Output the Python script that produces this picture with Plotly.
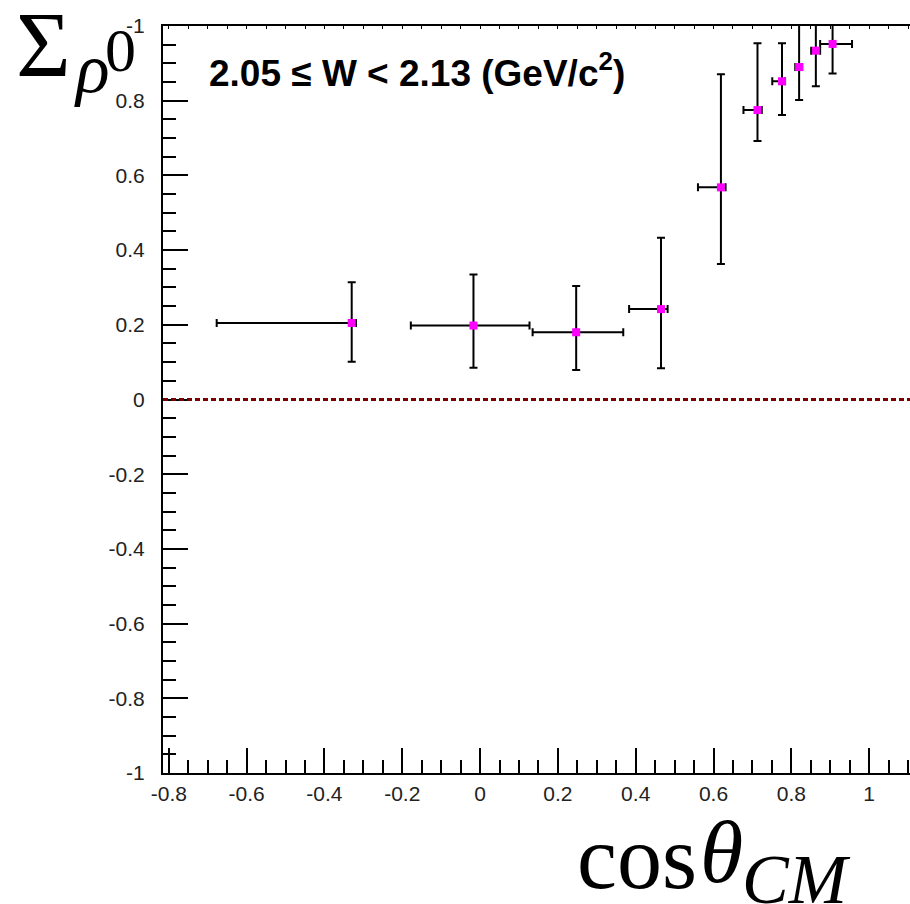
import plotly.graph_objects as go

# ---- data ----
cos_theta = [-0.330, -0.017, 0.247, 0.465, 0.619, 0.713, 0.776, 0.820, 0.863, 0.906]
sigma = [0.205, 0.198, 0.180, 0.242, 0.568, 0.775, 0.852, 0.890, 0.934, 0.952]
x_err_minus = [0.347, 0.161, 0.112, 0.082, 0.059, 0.036, 0.025, 0.010, 0.012, 0.032]
x_err_plus = [0.011, 0.144, 0.121, 0.017, 0.012, 0.011, 0.008, 0.008, 0.011, 0.050]
y_err_plus = [0.109, 0.137, 0.124, 0.191, 0.303, 0.179, 0.102, 0.150, 0.120, 0.100]
y_err_minus = [0.104, 0.113, 0.101, 0.158, 0.205, 0.083, 0.090, 0.088, 0.095, 0.079]

y_tick_vals = [-1, -0.8, -0.6, -0.4, -0.2, 0, 0.2, 0.4, 0.6, 0.8, 1]
y_tick_text = ["-1", "-0.8", "-0.6", "-0.4", "-0.2", "0", "0.2", "0.4", "0.6", "0.8", "-1"]
x_tick_vals = [-0.8, -0.6, -0.4, -0.2, 0, 0.2, 0.4, 0.6, 0.8, 1]
x_tick_text = ["-0.8", "-0.6", "-0.4", "-0.2", "0", "0.2", "0.4", "0.6", "0.8", "1"]

X_RANGE = [-0.815, 1.105]
Y_RANGE = [-1, 1]

W, H = 910, 904
L, R, T, B = 163, 0, 26, 131
PW, PH = W - L - R, H - T - B


def px2paper_x(px):
    return (px - L) / PW


def px2paper_y(py):
    return (H - B - py) / PH


fig = go.Figure()

fig.add_trace(go.Scatter(
    x=cos_theta, y=sigma, mode="markers",
    marker=dict(symbol="square", size=8, color="#ff00ff"),
    error_x=dict(type="data", symmetric=False, array=x_err_plus, arrayminus=x_err_minus,
                 color="black", thickness=2, width=4),
    error_y=dict(type="data", symmetric=False, array=y_err_plus, arrayminus=y_err_minus,
                 color="black", thickness=2, width=4),
    showlegend=False, hoverinfo="skip",
))

# invisible trace for the top frame axis
fig.add_trace(go.Scatter(x=X_RANGE, y=[-2, -2], xaxis="x2", mode="markers",
                         marker=dict(size=1, opacity=0),
                         showlegend=False, hoverinfo="skip"))

tickfont = dict(family="Liberation Sans, Arial, sans-serif", size=21, color="#222")

fig.update_layout(
    width=W, height=H,
    margin=dict(l=L, r=R, t=T, b=B, autoexpand=False),
    paper_bgcolor="white", plot_bgcolor="white",
    xaxis=dict(
        range=X_RANGE, showgrid=False, zeroline=False, automargin=False,
        showline=True, linecolor="black", linewidth=2,
        tickmode="array", tickvals=x_tick_vals, ticktext=x_tick_text,
        ticks="inside", ticklen=25, tickwidth=2, tickcolor="black",
        minor=dict(tickmode="linear", tick0=0, dtick=0.05, ticks="inside",
                   ticklen=13, tickwidth=2, tickcolor="black", showgrid=False),
        tickfont=tickfont, ticklabelstandoff=1,
    ),
    xaxis2=dict(
        range=X_RANGE, overlaying="x", side="top", showgrid=False, zeroline=False,
        automargin=False,
        showline=True, linecolor="black", linewidth=2,
        tickmode="linear", tick0=0, dtick=0.05, ticks="inside", ticklen=3,
        tickwidth=1, tickcolor="black", showticklabels=False,
    ),
    yaxis=dict(
        range=Y_RANGE, showgrid=False, zeroline=False, automargin=False,
        showline=True, linecolor="black", linewidth=2,
        tickmode="array", tickvals=y_tick_vals, ticktext=y_tick_text,
        ticks="inside", ticklen=25, tickwidth=2, tickcolor="black",
        minor=dict(tickmode="linear", tick0=0, dtick=0.05, ticks="inside",
                   ticklen=13, tickwidth=2, tickcolor="black", showgrid=False),
        tickfont=tickfont, ticklabelstandoff=12,
    ),
)

# dotted zero line
fig.add_shape(type="line", xref="x", yref="y", x0=X_RANGE[0], x1=X_RANGE[1], y0=0, y1=0,
              line=dict(color="#7a0000", width=3, dash="5px,3px"))

# in-plot label
fig.add_annotation(
    xref="paper", yref="paper", x=px2paper_x(207), y=px2paper_y(71),
    xanchor="left", yanchor="middle", showarrow=False,
    text="<b>2.05 \u2264 W < 2.13 (GeV/c<sup>2</sup>)</b>",
    font=dict(family="Liberation Sans, Arial, sans-serif", size=37, color="black"),
)

serif = "Liberation Serif, DejaVu Serif, serif"
# y title: Sigma_{rho^0}
fig.add_annotation(xref="paper", yref="paper", x=px2paper_x(43), y=px2paper_y(44),
                   xanchor="center", yanchor="middle", showarrow=False,
                   text="\u03a3", font=dict(family=serif, size=94, color="black"))
fig.add_annotation(xref="paper", yref="paper", x=px2paper_x(92), y=px2paper_y(68),
                   xanchor="center", yanchor="middle", showarrow=False,
                   text="<i>\u03c1</i>", font=dict(family=serif, size=70, color="black"))
fig.add_annotation(xref="paper", yref="paper", x=px2paper_x(120), y=px2paper_y(50),
                   xanchor="center", yanchor="middle", showarrow=False,
                   text="0", font=dict(family=serif, size=62, color="black"))

# x title: cos theta_CM
fig.add_annotation(xref="paper", yref="paper", x=px2paper_x(637), y=px2paper_y(857),
                   xanchor="center", yanchor="middle", showarrow=False,
                   text="cos", font=dict(family=serif, size=90, color="black"))
fig.add_annotation(xref="paper", yref="paper", x=px2paper_x(721), y=px2paper_y(852),
                   xanchor="center", yanchor="middle", showarrow=False,
                   text="<i>\u03b8</i>", font=dict(family=serif, size=88, color="black"))
fig.add_annotation(xref="paper", yref="paper", x=px2paper_x(796), y=px2paper_y(879),
                   xanchor="center", yanchor="middle", showarrow=False,
                   text="<i>CM</i>", font=dict(family=serif, size=70, color="black"))

fig.write_html(
    "out.html",
    config={"displayModeBar": False},
    post_script="document.body.style.margin='0';document.body.style.overflow='hidden';",
)
